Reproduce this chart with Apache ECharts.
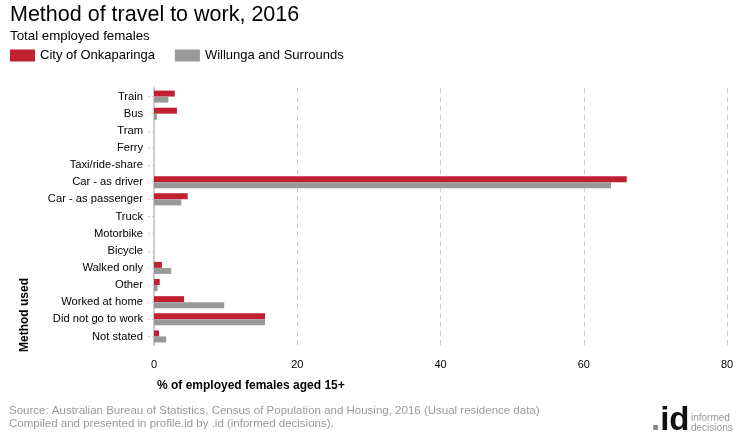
<!DOCTYPE html>
<html><head><meta charset="utf-8">
<script src="https://cdn.jsdelivr.net/npm/echarts@6/dist/echarts.min.js"></script>
<style>html,body{margin:0;padding:0;background:#fff}#c{width:740px;height:440px}</style>
</head><body><div id="c"></div>
<script>
const categories = ["Train","Bus","Tram","Ferry","Taxi/ride-share","Car - as driver","Car - as passenger","Truck","Motorbike","Bicycle","Walked only","Other","Worked at home","Did not go to work","Not stated"];
const onkaparinga = [2.9,3.2,0.0,0.0,0.0,66.0,4.7,0.0,0.0,0.0,1.1,0.8,4.2,15.5,0.7];
const willunga = [2.0,0.4,0.0,0.0,0.0,63.8,3.8,0.0,0.0,0.0,2.4,0.5,9.8,15.5,1.7];
const seriesNames = ["City of Onkaparinga","Willunga and Surrounds"];
const xTicks = {min:0,max:80,interval:20};

const font = "Arial, 'Liberation Sans', sans-serif";
const chart = echarts.init(document.getElementById('c'));
chart.setOption({
  animation:false,
  textStyle:{fontFamily:font},
  title:[{text:"Method of travel to work, 2016",left:5,top:-1,textStyle:{fontSize:21.5,fontWeight:'normal',color:'#000',fontFamily:font}},
         {text:"Total employed females",left:5,top:25,textStyle:{fontSize:13.3,fontWeight:'normal',color:'#000',fontFamily:font}}],
  legend:{left:5,top:44,itemWidth:25,itemHeight:12,itemGap:20,icon:'rect',textStyle:{fontSize:13,color:'#000',fontFamily:font},data:seriesNames},
  grid:{left:154,right:13,top:88,bottom:95,containLabel:false},
  xAxis:{type:'value',min:xTicks.min,max:xTicks.max,interval:xTicks.interval,
    axisLine:{show:false},axisTick:{show:false},
    axisLabel:{color:'#000',fontSize:11,margin:14,fontFamily:font},
    splitLine:{show:true,lineStyle:{color:'#ccc',type:[5,4]}}},
  yAxis:{type:'category',data:categories,inverse:true,
    axisLine:{show:true,lineStyle:{color:'#ccc',width:2}},
    axisTick:{show:true,length:7,alignWithLabel:true,lineStyle:{color:'#ccc',type:[2,2]}},
    axisLabel:{color:'#000',fontSize:11.2,margin:11,fontFamily:font}},
  series:[
    {name:seriesNames[0],type:'bar',data:onkaparinga,itemStyle:{color:'#C0202F'},barWidth:6,barGap:'0%'},
    {name:seriesNames[1],type:'bar',data:willunga,itemStyle:{color:'#999999'},barWidth:6,barGap:'0%'}
  ],
  graphic:[
    {type:'text',left:157,top:380,style:{text:"% of employed females aged 15+",font:"bold 12px "+font,fill:'#000'}},
    {type:'text',left:19,top:278,rotation:Math.PI/2,
      style:{text:"Method used",font:"bold 12px "+font,fill:'#000'}},
    {type:'text',left:9,top:404,style:{text:"Source: Australian Bureau of Statistics, Census of Population and Housing, 2016 (Usual residence data)\nCompiled and presented in profile.id by .id (informed decisions).",font:"11.5px "+font,fill:'#999',lineHeight:13}},
    {type:'text',left:651,top:404,style:{rich:{d:{font:"bold 33px "+font,fill:'#888'},i:{font:"bold 33px "+font,fill:'#111'}},text:"{d|.}{i|id}"}},
    {type:'text',left:691,top:413,style:{text:"informed\ndecisions",font:"10px "+font,fill:'#999',lineHeight:10}}
  ]
});
</script></body></html>
